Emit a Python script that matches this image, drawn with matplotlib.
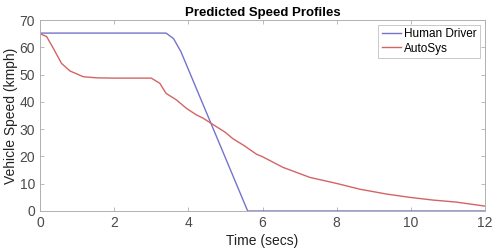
import matplotlib
matplotlib.use("Agg")
import matplotlib.pyplot as plt

# Human driver profile
t_human = [0, 3.4, 3.6, 3.8, 5.6, 12]
v_human = [65.2, 65.2, 63.2, 58.4, 0, 0]

# AutoSys profile
t_auto = [0, 0.18, 0.36, 0.58, 0.81, 1.17, 1.53, 2.0, 2.5, 3.0, 3.23, 3.4, 3.68, 3.95,
          4.22, 4.4, 4.63, 5.0, 5.2, 5.5, 5.84, 6.0, 6.55, 7.28, 8.0, 8.62, 9.35,
          9.97, 10.6, 11.2, 12.0]
v_auto = [65.0, 63.9, 59.6, 54.1, 51.3, 49.2, 48.8, 48.7, 48.7, 48.7, 46.8, 43.1, 40.7, 37.6,
          35.2, 34.0, 32.0, 28.8, 26.5, 24.0, 20.8, 19.9, 16.0, 12.3, 10.1, 8.0, 6.2,
          5.0, 4.0, 3.3, 1.8]

xticks = [0, 2, 4, 6, 8, 10, 12]
yticks = [0, 10, 20, 30, 40, 50, 60, 70]

plt.rcParams['font.family'] = ['Liberation Sans', 'DejaVu Sans']

fig = plt.figure(figsize=(4.92, 2.5), dpi=100)
ax = fig.add_axes([0.0813, 0.156, 0.9045, 0.764])

ax.plot(t_human, v_human, color="#7474cc", linewidth=1.0, label="Human Driver")
ax.plot(t_auto, v_auto, color="#d46464", linewidth=1.0, label="AutoSys")

ax.set_xlim(0, 12)
ax.set_ylim(0, 70)
ax.set_xticks(xticks)
ax.set_yticks(yticks)
ax.tick_params(direction="in", length=3, width=0.6, colors="#b0b0b0",
               labelcolor="#4a4a4a", labelsize=10, top=True, right=True)
for s in ax.spines.values():
    s.set_color("#b0b0b0")
    s.set_linewidth(0.7)

ax.set_title("Predicted Speed Profiles", fontsize=9.5, fontweight="bold", pad=3)
ax.set_xlabel("Time (secs)", fontsize=10, color="#222222", labelpad=3)
ax.set_ylabel("Vehicle Speed (kmph)", fontsize=10, color="#222222", labelpad=1)

leg = ax.legend(loc="upper right", fontsize=8.5, frameon=True, fancybox=False,
                handlelength=1.6, handletextpad=0.3, borderpad=0.3,
                labelspacing=0.2, borderaxespad=0.4)
leg.get_frame().set_edgecolor("#b0b0b0")
leg.get_frame().set_linewidth(0.6)

fig.savefig("out.png", dpi=100)
